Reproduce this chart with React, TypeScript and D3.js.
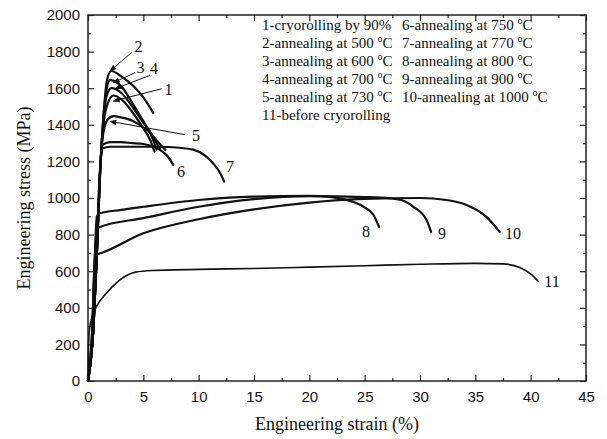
import * as d3 from "d3";
import { useEffect, useRef } from "react";

// stress-strain curves, strain in %, stress in MPa
const c1x = [0, 0.5, 0.8, 1.1, 1.4, 1.8, 2.3, 3, 4, 5, 5.6, 6.0];
const c1y = [0, 300, 700, 1150, 1400, 1520, 1560, 1540, 1470, 1380, 1320, 1254];
const c2x = [0, 0.5, 0.8, 1.1, 1.4, 1.7, 2.1, 3, 4.1, 5, 5.9];
const c2y = [0, 300, 700, 1150, 1450, 1640, 1694, 1665, 1612, 1550, 1465];
const c3x = [0, 0.5, 0.8, 1.1, 1.4, 1.7, 2.0, 3, 4, 5, 6, 6.5];
const c3y = [0, 300, 700, 1150, 1450, 1600, 1645, 1610, 1520, 1420, 1320, 1270];
const c4x = [0, 0.5, 0.8, 1.1, 1.4, 1.7, 2.1, 3, 4, 5, 6, 7.0];
const c4y = [0, 300, 700, 1150, 1430, 1560, 1600, 1575, 1500, 1410, 1330, 1262];
const c5x = [0, 0.5, 0.8, 1.1, 1.4, 1.8, 2.3, 3, 4.1, 5, 5.6, 6.2];
const c5y = [0, 300, 700, 1150, 1360, 1430, 1447, 1440, 1420, 1385, 1355, 1264];
const c6x = [0, 0.5, 0.8, 1.0, 1.3, 2, 3, 4, 5, 6, 6.8, 7.3, 7.7];
const c6y = [0, 300, 700, 1050, 1290, 1305, 1305, 1300, 1295, 1280, 1250, 1220, 1181];
const c7x = [0, 0.5, 0.8, 1.0, 1.3, 2, 4, 6.5, 8, 9.5, 10.5, 11.3, 12, 12.3];
const c7y = [0, 300, 700, 1050, 1270, 1280, 1280, 1280, 1276, 1264, 1235, 1190, 1130, 1090];
const c8x = [0, 0.4, 0.6, 0.8, 1, 3, 5, 10, 15, 20, 22, 23.4, 24.9, 25.8, 26.3];
const c8y = [0, 300, 650, 900, 915, 935, 952, 989, 1007, 1012, 1005, 989, 952, 907, 842];
const c9x = [0, 0.4, 0.6, 0.8, 1, 5, 10, 15, 20, 25, 27.3, 28.5, 29.4, 30.6, 31];
const c9y = [0, 300, 650, 830, 840, 890, 952, 994, 1010, 1005, 998, 985, 952, 879, 815];
const c10x = [0, 0.4, 0.55, 0.7, 1, 5, 10, 15, 20, 25, 30, 32.4, 34.2, 36, 37.2];
const c10y = [0, 300, 600, 690, 695, 807, 884, 938, 975, 995, 1000, 989, 962, 897, 815];
const c11x = [0, 0.05, 0.15, 0.4, 0.8, 1.6, 2.8, 4.3, 5.8, 10, 15, 20, 25, 30, 35, 37.5, 39, 40, 40.7];
const c11y = [0, 200, 290, 355, 410, 476, 549, 595, 604, 610, 615, 622, 630, 638, 643, 640, 620, 585, 544];

const curveXs = [c1x, c2x, c3x, c4x, c5x, c6x, c7x, c8x, c9x, c10x, c11x];
const curveYs = [c1y, c2y, c3y, c4y, c5y, c6y, c7y, c8y, c9y, c10y, c11y];

// curve number labels (data coords)
const labelText = ["1", "2", "3", "4", "5", "6", "7", "8", "9", "10", "11"];
const labelX = [7.27, 4.56, 4.74, 5.96, 9.76, 8.4, 12.83, 25.12, 31.99, 38.4, 41.93];
const labelY = [1593, 1828, 1715, 1709, 1341, 1143, 1170, 819, 808, 808, 544];

// arrows: from -> to (data coords)
const arrowFromX = [6.66, 3.95, 4.25, 5.6, 8.76];
const arrowFromY = [1597, 1795, 1685, 1670, 1346];
const arrowToX = [2.29, 1.99, 2.29, 2.44, 1.99];
const arrowToY = [1529, 1694, 1630, 1597, 1419];

const legendCol1 = [
  ["1-cryorolling by 90%", ""],
  ["2-annealing at 500 ", "C"],
  ["3-annealing at 600 ", "C"],
  ["4-annealing at 700 ", "C"],
  ["5-annealing at 730 ", "C"],
  ["11-before cryorolling", ""],
];
const legendCol2 = [
  ["6-annealing at 750 ", "C"],
  ["7-annealing at 770 ", "C"],
  ["8-annealing at 800 ", "C"],
  ["9-annealing at 900 ", "C"],
  ["10-annealing at 1000 ", "C"],
];

const xTicks = d3.range(0, 46, 5);
const xMinor = d3.range(2.5, 45, 5);
const yTicks = d3.range(0, 2001, 200);
const yMinor = d3.range(100, 2000, 200);

export default function App() {
  const width = 607, height = 439;
  const left = 88, right = 586, top = 15, bottom = 381;
  const x = d3.scaleLinear([0, 45], [left, right]);
  const y = d3.scaleLinear([0, 2000], [bottom, top]);

  const gb = useRef(null), gbm = useRef(null), gt = useRef(null), gtm = useRef(null);
  const gl = useRef(null), glm = useRef(null), gr = useRef(null), grm = useRef(null);

  useEffect(() => {
    const style = (g) => {
      g.select(".domain").remove();
      g.selectAll("line").attr("stroke", "#222").attr("stroke-width", 1.2);
      g.selectAll("text").attr("font-family", "'Liberation Sans', Arial, sans-serif").attr("font-size", 15).attr("fill", "#111");
    };
    const none = () => "";
    d3.select(gb.current).call(d3.axisBottom(x).tickValues(xTicks).tickSize(-6).tickPadding(10).tickFormat(d3.format("d"))).call(style);
    d3.select(gbm.current).call(d3.axisBottom(x).tickValues(xMinor).tickSize(-3).tickFormat(none)).call(style);
    d3.select(gt.current).call(d3.axisTop(x).tickValues(xTicks).tickSize(-6).tickFormat(none)).call(style);
    d3.select(gtm.current).call(d3.axisTop(x).tickValues(xMinor).tickSize(-3).tickFormat(none)).call(style);
    d3.select(gl.current).call(d3.axisLeft(y).tickValues(yTicks).tickSize(-6).tickPadding(8).tickFormat(d3.format("d"))).call(style);
    d3.select(glm.current).call(d3.axisLeft(y).tickValues(yMinor).tickSize(-3).tickFormat(none)).call(style);
    d3.select(gr.current).call(d3.axisRight(y).tickValues(yTicks).tickSize(-6).tickFormat(none)).call(style);
    d3.select(grm.current).call(d3.axisRight(y).tickValues(yMinor).tickSize(-3).tickFormat(none)).call(style);
  }, []);

  const serif = "'Liberation Serif', 'Times New Roman', serif";

  return (
    <svg width={width} height={height} style={{ position: "absolute", left: 0, top: 0, background: "#fff" }}>
      <defs>
        <marker id="ah" viewBox="0 0 10 10" refX="9" refY="5" markerWidth="7" markerHeight="7" orient="auto">
          <path d="M0,1 L10,5 L0,9 z" fill="#111" />
        </marker>
      </defs>
      <rect x={left} y={top} width={right - left} height={bottom - top} fill="none" stroke="#222" strokeWidth={1.5} />
      <g ref={gb} transform={`translate(0,${bottom})`} />
      <g ref={gbm} transform={`translate(0,${bottom})`} />
      <g ref={gt} transform={`translate(0,${top})`} />
      <g ref={gtm} transform={`translate(0,${top})`} />
      <g ref={gl} transform={`translate(${left},0)`} />
      <g ref={glm} transform={`translate(${left},0)`} />
      <g ref={gr} transform={`translate(${right},0)`} />
      <g ref={grm} transform={`translate(${right},0)`} />

      <g fill="none" stroke="#111" strokeLinejoin="round" strokeLinecap="round">
        {curveXs.map((xs, i) => (
          <path key={i}
            strokeWidth={i === 10 ? 1.6 : 2.2}
            d={d3.line<number>().curve(d3.curveMonotoneX).x((_, j) => x(xs[j])).y((_, j) => y(curveYs[i][j]))(xs) || ""} />
        ))}
      </g>

      <g stroke="#111" strokeWidth={1}>
        {arrowFromX.map((fx, i) => (
          <line key={i} x1={x(fx)} y1={y(arrowFromY[i])} x2={x(arrowToX[i])} y2={y(arrowToY[i])} markerEnd="url(#ah)" />
        ))}
      </g>

      <g fontFamily={serif} fontSize={16} fill="#111" textAnchor="middle" dominantBaseline="central">
        {labelText.map((t, i) => (
          <text key={i} x={x(labelX[i])} y={y(labelY[i])}>{t}</text>
        ))}
      </g>

      <g fontFamily={serif} fontSize={15} fill="#111">
        {legendCol1.map((d, i) => (
          <text key={i} x={262} y={30 + i * 18}>
            {d[0]}{d[1] && <tspan fontSize={10} dy={-6}>o</tspan>}{d[1] && <tspan dy={6}>{d[1]}</tspan>}
          </text>
        ))}
        {legendCol2.map((d, i) => (
          <text key={i} x={402} y={30 + i * 18}>
            {d[0]}{d[1] && <tspan fontSize={10} dy={-6}>o</tspan>}{d[1] && <tspan dy={6}>{d[1]}</tspan>}
          </text>
        ))}
      </g>

      <text x={(left + right) / 2} y={430} textAnchor="middle" fontFamily={serif} fontSize={18} fill="#111">
        Engineering strain (%)
      </text>
      <text transform={`translate(30,${(top + bottom) / 2}) rotate(-90)`} textAnchor="middle" fontFamily={serif} fontSize={18} fill="#111">
        Engineering stress (MPa)
      </text>
    </svg>
  );
}
